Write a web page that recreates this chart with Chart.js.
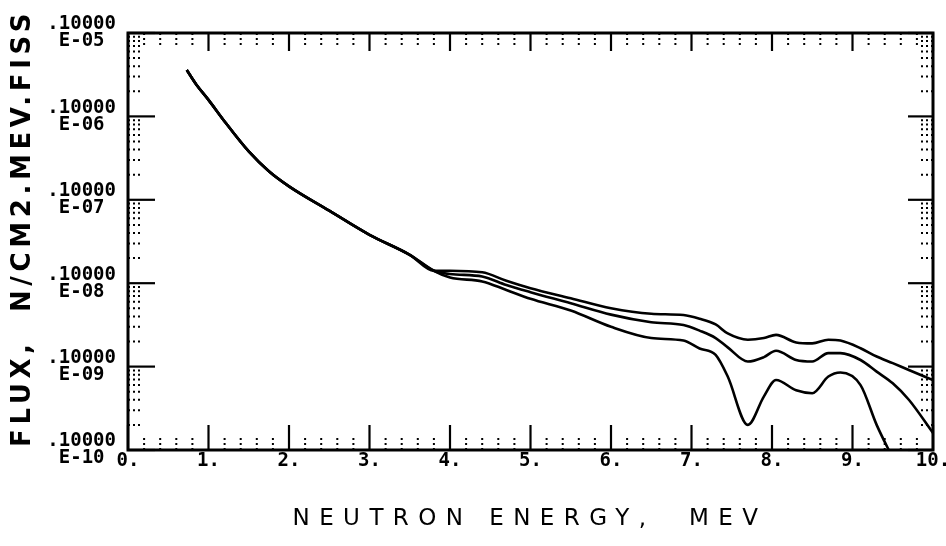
<!DOCTYPE html>
<html>
<head>
<meta charset="utf-8">
<script src="https://cdn.jsdelivr.net/npm/chart.js@4.4.1/dist/chart.umd.min.js"></script>
<style>
  html, body { margin: 0; padding: 0; background: #fff; }
</style>
</head>
<body>
<canvas id="flux" width="946" height="546"></canvas>
<script>
// Spectrum: energy in MeV, flux in n/cm2.MeV.fiss
const energy = [0.73, 0.85, 1.0, 1.2, 1.5, 1.75, 2.0, 2.5, 3.0, 3.5, 3.8,
                4.0, 4.4, 4.7, 5.0, 5.5, 6.0, 6.5, 6.9, 7.1, 7.3, 7.45, 7.7,
                7.9, 8.05, 8.3, 8.5, 8.7, 8.85, 9.1, 9.3, 9.5, 9.7, 10.0];

const fluxUpper = [3.6e-7, 2.4e-7, 1.58e-7, 8.7e-8, 3.8e-8, 2.2e-8, 1.45e-8, 7.4e-9, 3.8e-9, 2.19e-9, 1.41e-9,
                   1.41e-9, 1.35e-9, 1.07e-9, 8.7e-10, 6.6e-10, 5.0e-10, 4.3e-10, 4.15e-10, 3.75e-10, 3.2e-10, 2.5e-10, 2.1e-10,
                   2.2e-10, 2.4e-10, 1.95e-10, 1.9e-10, 2.1e-10, 2.05e-10, 1.66e-10, 1.32e-10, 1.1e-10, 9.1e-11, 6.9e-11];

const fluxMiddle = [3.6e-7, 2.4e-7, 1.58e-7, 8.7e-8, 3.8e-8, 2.2e-8, 1.45e-8, 7.4e-9, 3.8e-9, 2.19e-9, 1.41e-9,
                    1.29e-9, 1.2e-9, 9.5e-10, 7.8e-10, 5.75e-10, 4.2e-10, 3.4e-10, 3.15e-10, 2.7e-10, 2.2e-10, 1.7e-10, 1.15e-10,
                    1.3e-10, 1.55e-10, 1.2e-10, 1.15e-10, 1.45e-10, 1.45e-10, 1.2e-10, 8.7e-11, 6.3e-11, 4.0e-11, 1.6e-11];

const fluxLower = [3.6e-7, 2.4e-7, 1.58e-7, 8.7e-8, 3.8e-8, 2.2e-8, 1.45e-8, 7.4e-9, 3.8e-9, 2.19e-9, 1.41e-9,
                   1.17e-9, 1.05e-9, 8.3e-10, 6.5e-10, 4.7e-10, 3.0e-10, 2.2e-10, 2.05e-10, 1.65e-10, 1.38e-10, 7.6e-11, 2.0e-11,
                   4.4e-11, 6.9e-11, 5.2e-11, 4.8e-11, 7.6e-11, 8.5e-11, 6.0e-11, 2.0e-11, 8e-12, null, null];

const xTickValues = [0, 1, 2, 3, 4, 5, 6, 7, 8, 9, 10];
const xTickLabels = ['0.', '1.', '2.', '3.', '4.', '5.', '6.', '7.', '8.', '9.', '10.'];
const yTickValues = [1e-11, 1e-10, 1e-9, 1e-8, 1e-7, 1e-6];
const yTickLabels = [['.10000', 'E-10'], ['.10000', 'E-09'], ['.10000', 'E-08'],
                     ['.10000', 'E-07'], ['.10000', 'E-06'], ['.10000', 'E-05']];

const xTitle = 'NEUTRON ENERGY,  MEV';
const yTitle = 'FLUX,  N/CM2.MEV.FISS';

const INK = '#000';
const TICK_FONT = { family: '"DejaVu Sans Mono", monospace', size: 19, weight: 'bold', lineHeight: 0.9 };

function curve(data) {
    return {
        data,
        borderColor: INK,
        borderWidth: 2.6,
        pointRadius: 0,
        fill: false,
        cubicInterpolationMode: 'monotone',
        spanGaps: false,
    };
}

// frame, inward ticks and dotted minor ticks like the old plotter output
const plotterFrame = {
    id: 'plotterFrame',
    afterDatasetsDraw(chart) {
        const { ctx, chartArea: a, scales: { x, y } } = chart;
        const seg = (x1, y1, x2, y2) => { ctx.beginPath(); ctx.moveTo(x1, y1); ctx.lineTo(x2, y2); ctx.stroke(); };
        ctx.save();
        ctx.strokeStyle = INK;

        ctx.lineWidth = 2;
        ctx.setLineDash([2, 3]);
        for (let i = 1; i < 50; i++) {
            if (i % 5 === 0) continue;
            const px = x.getPixelForValue(i / 5);
            seg(px, a.bottom, px, a.bottom - 12);
            seg(px, a.top, px, a.top + 12);
        }
        for (let d = -11; d < -6; d++) {
            for (let m = 2; m <= 9; m++) {
                const py = y.getPixelForValue(m * Math.pow(10, d));
                seg(a.left, py, a.left + 15, py);
                seg(a.right, py, a.right - 15, py);
            }
        }
        ctx.setLineDash([]);

        ctx.lineWidth = 2.2;
        xTickValues.forEach(v => {
            const px = x.getPixelForValue(v);
            seg(px, a.bottom, px, a.bottom - 25);
            seg(px, a.top, px, a.top + 18);
        });
        yTickValues.forEach(v => {
            const py = y.getPixelForValue(v);
            seg(a.left, py, a.left + 27, py);
            seg(a.right, py, a.right - 25, py);
        });

        ctx.lineWidth = 3;
        ctx.strokeRect(a.left, a.top, a.right - a.left, a.bottom - a.top);
        ctx.restore();
    },
    afterDraw(chart) {
        const { ctx } = chart;
        ctx.save();
        ctx.fillStyle = INK;
        ctx.textAlign = 'center';
        ctx.textBaseline = 'middle';

        // x title, wide plotter lettering
        ctx.font = '23px "DejaVu Sans", sans-serif';
        ctx.letterSpacing = '0px';
        let w = ctx.measureText(xTitle).width;
        ctx.letterSpacing = ((475 - w) / xTitle.length) + 'px';
        ctx.fillText(xTitle, 530, 519);

        // y title, rotated
        ctx.font = 'bold 26px "DejaVu Sans", sans-serif';
        ctx.letterSpacing = '0px';
        w = ctx.measureText(yTitle).width;
        ctx.letterSpacing = ((438 - w) / yTitle.length) + 'px';
        ctx.translate(23, 228);
        ctx.rotate(-Math.PI / 2);
        ctx.fillText(yTitle, 0, 0);
        ctx.restore();
    }
};

new Chart(document.getElementById('flux'), {
    type: 'line',
    data: {
        labels: energy,
        datasets: [curve(fluxUpper), curve(fluxMiddle), curve(fluxLower)],
    },
    options: {
        responsive: false,
        animation: false,
        layout: { padding: { top: 33, right: 13, bottom: 0, left: 0 } },
        plugins: { legend: { display: false }, tooltip: { enabled: false } },
        scales: {
            x: {
                type: 'linear',
                min: 0,
                max: 10,
                grid: { display: false, drawTicks: false },
                border: { display: false },
                afterBuildTicks: (scale) => { scale.ticks = xTickValues.map(v => ({ value: v })); },
                afterFit: (scale) => {
                    scale.height = 96;
                    scale.paddingLeft = 0;
                    scale.paddingRight = 0;
                },
                ticks: {
                    color: INK,
                    font: TICK_FONT,
                    padding: 3,
                    maxRotation: 0,
                    callback: (v, i) => xTickLabels[i],
                },
            },
            y: {
                type: 'logarithmic',
                min: 1e-11,
                max: 1e-6,
                grid: { display: false, drawTicks: false },
                border: { display: false },
                afterBuildTicks: (scale) => { scale.ticks = yTickValues.map(v => ({ value: v })); },
                afterFit: (scale) => {
                    scale.width = 128;
                    scale.paddingTop = 0;
                    scale.paddingBottom = 0;
                },
                ticks: {
                    color: INK,
                    font: TICK_FONT,
                    padding: 12,
                    crossAlign: 'center',
                    callback: (v, i) => yTickLabels[i],
                },
            },
        },
    },
    plugins: [plotterFrame],
});
</script>
</body>
</html>
